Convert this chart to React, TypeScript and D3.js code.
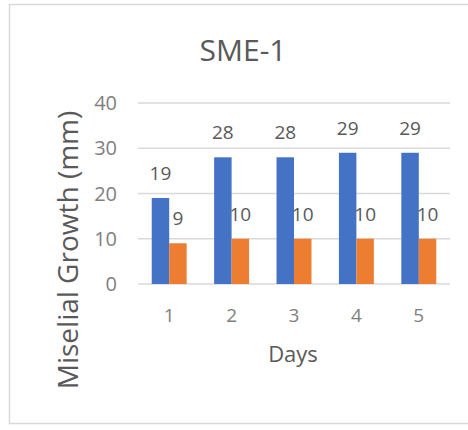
import React from "react";
import * as d3 from "d3";

const days = ["1", "2", "3", "4", "5"];
const seriesNames = ["A", "B"];
const blueValues = [19, 28, 28, 29, 29];
const orangeValues = [9, 10, 10, 10, 10];
const yTicks = [0, 10, 20, 30, 40];
const colors = ["#4472C4", "#ED7D31"];

const W = 468;
const H = 430;
const FONT = "'Open Sans', sans-serif";

export default function App() {
  const x = d3.scaleBand<string>().domain(days).range([138, 450]).paddingInner(0.44).paddingOuter(0.22);
  const xs = d3.scaleBand<string>().domain(seriesNames).range([0, x.bandwidth()]);
  const y = d3.scaleLinear().domain([0, 40]).range([284, 103]);
  const series = [blueValues, orangeValues];

  return (
    <svg width={W} height={H} style={{ position: "absolute", left: 0, top: 0, background: "#fff" }}>
      <rect x={9.5} y={4.5} width={470} height={419} fill="#fff" stroke="#d9d9d9" strokeWidth={1.5} />
      <text x={243} y={61} textAnchor="middle" fontFamily={FONT} fontSize={30} fill="#595959">SME-1</text>
      {yTicks.map((t) => (
        <g key={t}>
          <line x1={138} x2={450} y1={y(t)} y2={y(t)} stroke="#d9d9d9" strokeWidth={1.5} />
          <text x={117} y={y(t)} dy="0.35em" textAnchor="end" fontFamily={FONT} fontSize={20} fill="#7f7f7f">{t}</text>
        </g>
      ))}
      {series.map((vals, si) =>
        vals.map((v, i) => {
          const bx = (x(days[i]) as number) + (xs(seriesNames[si]) as number);
          const bw = xs.bandwidth();
          return (
            <g key={si + "-" + i}>
              <rect x={bx} y={y(v)} width={bw} height={y(0) - y(v)} fill={colors[si]} />
              <text x={bx + bw / 2} y={y(v) - 18} textAnchor="middle" fontFamily={FONT} fontSize={19} fill="#595959">{v}</text>
            </g>
          );
        })
      )}
      {days.map((d) => (
        <text key={d} x={(x(d) as number) + x.bandwidth() / 2} y={322} textAnchor="middle" fontFamily={FONT} fontSize={19} fill="#7f7f7f">{d}</text>
      ))}
      <text x={293} y={362} textAnchor="middle" fontFamily={FONT} fontSize={22} fill="#595959">Days</text>
      <text transform="translate(78,250) rotate(-90)" textAnchor="middle" fontFamily={FONT} fontSize={28} fill="#595959">Miselial Growth (mm)</text>
    </svg>
  );
}
